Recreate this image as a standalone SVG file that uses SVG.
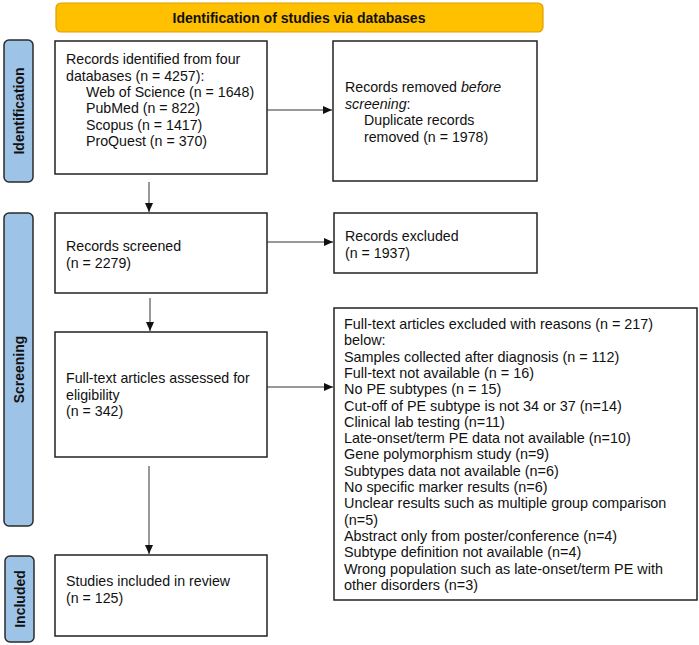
<svg xmlns="http://www.w3.org/2000/svg" width="699" height="645" viewBox="0 0 699 645">
<defs>
<marker id="arr" markerWidth="10" markerHeight="8" refX="9" refY="4" orient="auto" markerUnits="userSpaceOnUse">
<path d="M0,0 L9,4 L0,8 Z" fill="#111"/>
</marker>
<style>
.box{fill:#fff;stroke:#222;stroke-width:1.5}
.side{fill:#9DC3E6;stroke:#2b2b2b;stroke-width:1.5}
.t{font-family:"Liberation Sans",Arial,sans-serif;font-size:14.2px;fill:#111}
.r{font-size:14.4px}
.b{font-family:"Liberation Sans",Arial,sans-serif;font-size:14px;font-weight:bold;fill:#111}
.c{stroke:#333;stroke-width:1;fill:none;marker-end:url(#arr)}
</style>
</defs>
<rect width="699" height="645" fill="#fff"/>
<g id="banner">
<rect x="56" y="3" width="487" height="29" rx="5" fill="#FFC000" stroke="#E0A000" stroke-width="1.2"/>
<text class="b" x="299" y="23" text-anchor="middle">Identification of studies via databases</text>
</g>
<g id="side-identification">
<rect class="side" x="4" y="40" width="29" height="142" rx="5"/>
<text class="b" transform="translate(23.5,111) rotate(-90)" text-anchor="middle">Identification</text>
</g>
<g id="side-screening">
<rect class="side" x="4" y="213" width="29" height="313" rx="5"/>
<text class="b" transform="translate(23.5,369.5) rotate(-90)" text-anchor="middle">Screening</text>
</g>
<g id="side-included">
<rect class="side" x="5" y="556" width="29" height="86" rx="5"/>
<text class="b" transform="translate(24.5,599) rotate(-90)" text-anchor="middle">Included</text>
</g>
<g id="identified">
<rect class="box" x="55" y="41" width="212" height="133"/>
<text class="t" x="66" y="64">Records identified from four</text>
<text class="t" x="66" y="80.5">databases (n = 4257):</text>
<text class="t" x="86" y="97">Web of Science (n = 1648)</text>
<text class="t" x="86" y="113">PubMed (n = 822)</text>
<text class="t" x="86" y="129.5">Scopus (n = 1417)</text>
<text class="t" x="86" y="146">ProQuest (n = 370)</text>
</g>
<g id="removed">
<rect class="box" x="333" y="41" width="204" height="140"/>
<text class="t" x="345" y="92">Records removed <tspan font-style="italic">before</tspan></text>
<text class="t" x="345" y="108.5"><tspan font-style="italic">screening</tspan>:</text>
<text class="t" x="364" y="125">Duplicate records</text>
<text class="t" x="364" y="141.5">removed (n = 1978)</text>
</g>
<g id="screened">
<rect class="box" x="55" y="213" width="212" height="80"/>
<text class="t" x="66" y="251">Records screened</text>
<text class="t" x="66" y="267.5">(n = 2279)</text>
</g>
<g id="excluded">
<rect class="box" x="334" y="213" width="203" height="60"/>
<text class="t" x="345" y="241">Records excluded</text>
<text class="t" x="345" y="257.5">(n = 1937)</text>
</g>
<g id="assessed">
<rect class="box" x="55" y="332" width="212" height="125"/>
<text class="t" x="66" y="383">Full-text articles assessed for</text>
<text class="t" x="66" y="399.5">eligibility</text>
<text class="t" x="66" y="416">(n = 342)</text>
</g>
<g id="fulltext-excluded">
<rect class="box" x="334" y="308" width="363" height="292"/>
<text class="t r" x="344" y="329">Full-text articles excluded with reasons (n = 217)</text>
<text class="t r" x="344" y="345.3">below:</text>
<text class="t r" x="344" y="361.6">Samples collected after diagnosis (n = 112)</text>
<text class="t r" x="344" y="377.9">Full-text not available (n = 16)</text>
<text class="t r" x="344" y="394.2">No PE subtypes (n = 15)</text>
<text class="t r" x="344" y="410.5">Cut-off of PE subtype is not 34 or 37 (n=14)</text>
<text class="t r" x="344" y="426.8">Clinical lab testing (n=11)</text>
<text class="t r" x="344" y="443.1">Late-onset/term PE data not available (n=10)</text>
<text class="t r" x="344" y="459.4">Gene polymorphism study (n=9)</text>
<text class="t r" x="344" y="475.7">Subtypes data not available (n=6)</text>
<text class="t r" x="344" y="492">No specific marker results (n=6)</text>
<text class="t r" x="344" y="508.3">Unclear results such as multiple group comparison</text>
<text class="t r" x="344" y="524.6">(n=5)</text>
<text class="t r" x="344" y="540.9">Abstract only from poster/conference (n=4)</text>
<text class="t r" x="344" y="557.2">Subtype definition not available (n=4)</text>
<text class="t r" x="344" y="573.5">Wrong population such as late-onset/term PE with</text>
<text class="t r" x="344" y="589.8">other disorders (n=3)</text>
</g>
<g id="included">
<rect class="box" x="55" y="555" width="212" height="81"/>
<text class="t" x="66" y="586">Studies included in review</text>
<text class="t" x="66" y="602.5">(n = 125)</text>
</g>
<g id="connectors">
<path class="c" d="M267,110 H332"/>
<path class="c" d="M149,182 V212"/>
<path class="c" d="M267,242 H333"/>
<path class="c" d="M150,298 V331"/>
<path class="c" d="M267,387 H333"/>
<path class="c" d="M149,466 V554"/>
</g>
</svg>
